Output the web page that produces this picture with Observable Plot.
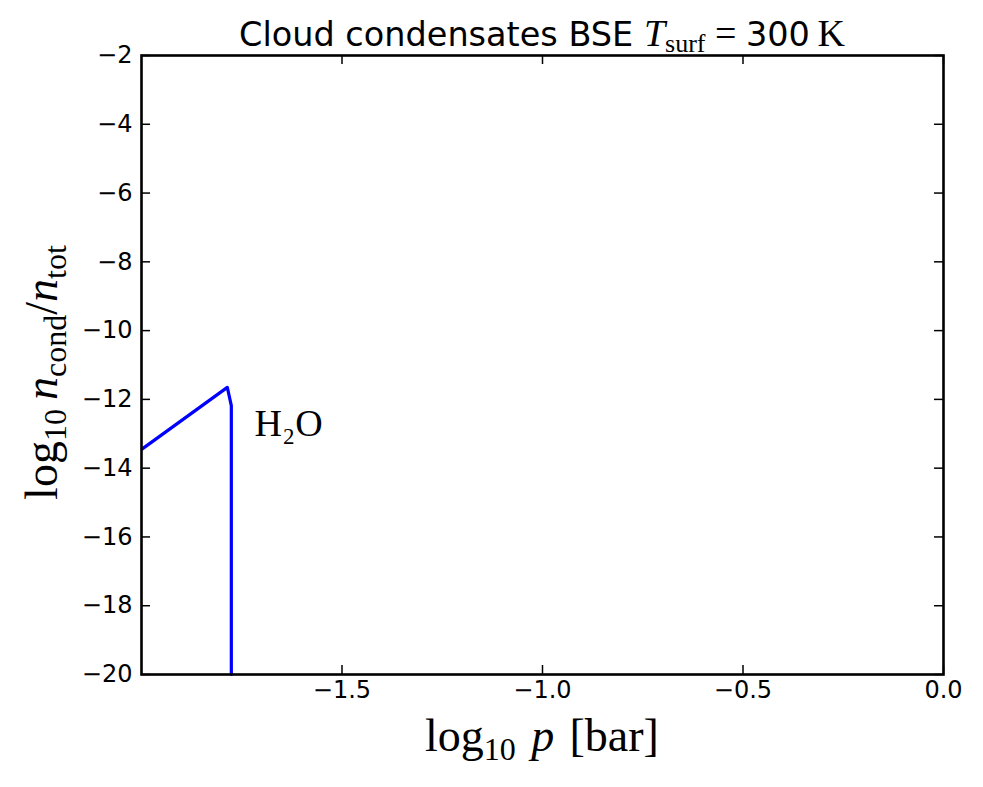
<!DOCTYPE html>
<html>
<head>
<meta charset="utf-8">
<script src="https://cdn.jsdelivr.net/npm/d3@7"></script>
<script src="https://cdn.jsdelivr.net/npm/@observablehq/plot@0.6"></script>
<style>
  html, body { margin: 0; padding: 0; background: #fff; }
  #chart { width: 983px; height: 787px; }
</style>
</head>
<body>
<div id="chart"></div>
<script>
// Data
const pressure = [-1.998, -1.786, -1.776, -1.776];     // log10 p [bar]
const condensate = [-13.44, -11.65, -12.18, -20];     // log10 n_cond / n_tot
const species = "H₂O";
const labelPos = {x: -1.718, y: -12.7};

const xTicks = [-1.5, -1.0, -0.5, 0.0];
const yTicks = [-2, -4, -6, -8, -10, -12, -14, -16, -18, -20];

const data = pressure.map((p, i) => ({p, c: condensate[i]}));

const W = 983, H = 787;
const mL = 141, mR = 40, mT = 55, mB = 113;
const fw = W - mL - mR, fh = H - mT - mB;
const tickLen = 9;
const minus = s => String(s).replace("-", "\u2212");

const chart = Plot.plot({
  width: W,
  height: H,
  marginLeft: mL,
  marginRight: mR,
  marginTop: mT,
  marginBottom: mB,
  style: {fontFamily: "DejaVu Sans", fontSize: "24px", color: "black", background: "white"},
  x: {domain: [-2, 0]},
  y: {domain: [-20, -2]},
  marks: [
    Plot.line(data, {x: "p", y: "c", stroke: "#0000ff", strokeWidth: 3.2}),
    Plot.text([labelPos], {x: "x", y: "y", text: () => species, textAnchor: "start",
      fontFamily: "Liberation Serif", fontSize: 38, fill: "black"}),
    // inward ticks on all four sides
    Plot.tickX(xTicks, {x: d => d, insetTop: fh - tickLen, stroke: "black", strokeWidth: 1.5}),
    Plot.tickX(xTicks, {x: d => d, insetBottom: fh - tickLen, stroke: "black", strokeWidth: 1.5}),
    Plot.tickY(yTicks, {y: d => d, insetRight: fw - tickLen, stroke: "black", strokeWidth: 1.5}),
    Plot.tickY(yTicks, {y: d => d, insetLeft: fw - tickLen, stroke: "black", strokeWidth: 1.5}),
    Plot.axisX({anchor: "bottom", ticks: xTicks, tickSize: 0, tickPadding: 6,
      tickFormat: d => minus(d3.format(".1f")(d)), label: null}),
    Plot.axisY({anchor: "left", ticks: yTicks, tickSize: 0, tickPadding: 9,
      tickFormat: d => minus(d), label: null}),
    Plot.frame({stroke: "black", strokeWidth: 2.6})
  ]
});

const svg = d3.select(chart);

// Title
const title = svg.append("text")
  .attr("x", mL + fw / 2).attr("y", 46)
  .attr("text-anchor", "middle")
  .attr("font-family", "DejaVu Sans").attr("font-size", 33.5).attr("fill", "black");
title.append("tspan").text("Cloud condensates BSE ");
title.append("tspan").attr("font-family", "Liberation Serif").attr("font-style", "italic").attr("font-size", 38).text("T");
title.append("tspan").attr("font-family", "Liberation Serif").attr("font-size", 26).attr("dy", 6).text("surf");
title.append("tspan").attr("font-family", "Liberation Serif").attr("font-size", 38).attr("dy", -6).text("\u2005=\u2005");
title.append("tspan").text("300");
title.append("tspan").attr("font-family", "Liberation Serif").attr("font-size", 38).text("\u2009K");

// X axis label
const xl = svg.append("text")
  .attr("x", mL + fw / 2).attr("y", 751)
  .attr("text-anchor", "middle")
  .attr("font-family", "Liberation Serif").attr("font-size", 46).attr("fill", "black");
xl.append("tspan").text("log");
xl.append("tspan").attr("font-size", 32).attr("dy", 9).text("10");
xl.append("tspan").attr("dy", -9).text("\u2004");
xl.append("tspan").attr("font-style", "italic").text("p");
xl.append("tspan").text("\u2004[bar]");

// Y axis label
const yl = svg.append("text")
  .attr("transform", `translate(57, ${mT + fh / 2 + 8}) rotate(-90)`)
  .attr("text-anchor", "middle")
  .attr("font-family", "Liberation Serif").attr("font-size", 46).attr("fill", "black");
yl.append("tspan").text("log");
yl.append("tspan").attr("font-size", 32).attr("dy", 9).text("10");
yl.append("tspan").attr("dy", -9).text("\u2009");
yl.append("tspan").attr("font-style", "italic").text("n");
yl.append("tspan").attr("font-size", 32).attr("dy", 9).text("cond");
yl.append("tspan").attr("dy", -9).text("/");
yl.append("tspan").attr("font-style", "italic").text("n");
yl.append("tspan").attr("font-size", 32).attr("dy", 9).text("tot");

document.getElementById("chart").appendChild(chart);
</script>
</body>
</html>
